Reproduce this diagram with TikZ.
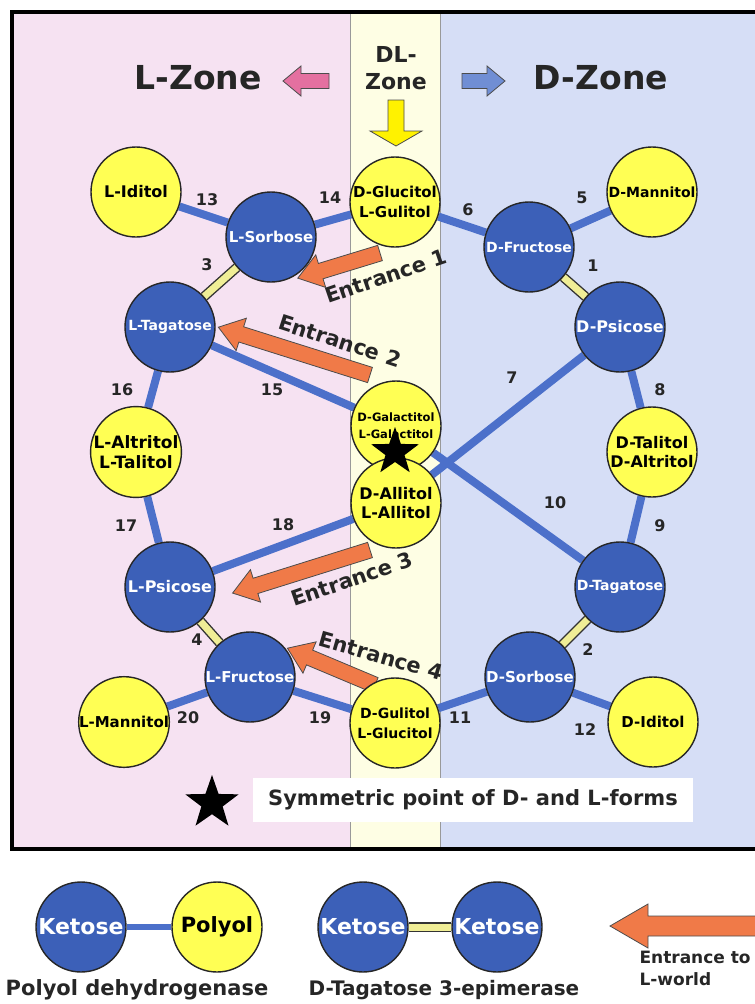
\documentclass[tikz,border=0pt]{standalone}
\usepackage{fontspec}
\setmainfont{DejaVu Sans}
\usetikzlibrary{shapes.geometric,backgrounds}

\definecolor{lzonebg}{RGB}{246,226,242}
\definecolor{dlzonebg}{RGB}{254,254,228}
\definecolor{dzonebg}{RGB}{214,222,246}
\definecolor{ketoseblue}{RGB}{60,96,184}
\definecolor{linkblue}{RGB}{76,112,202}
\definecolor{polyolyellow}{RGB}{255,255,84}
\definecolor{epiyellow}{RGB}{240,238,150}
\definecolor{entrorange}{RGB}{240,122,72}
\definecolor{lpink}{RGB}{228,112,160}
\definecolor{dblue}{RGB}{112,142,212}

\newcommand\fsz[2]{\fontsize{#1}{#2}\selectfont}
% style, tail, angle, length, shaft half width, head half width, head length
\newcommand\blockarrow[7]{%
  \draw[#1, shift={(#2)}, rotate=#3] (0,-#5) -- (#4-#7,-#5) -- (#4-#7,-#6) -- (#4,0)
    -- (#4-#7,#6) -- (#4-#7,#5) -- (0,#5) -- cycle;}

\tikzstyle{ketose}=[circle, draw=black!85, line width=1.4pt, fill=ketoseblue, text=white, minimum size=90pt, inner sep=0pt, font=\bfseries\fsz{15}{18}]
\tikzstyle{polyol}=[circle, draw=black!85, line width=1.4pt, fill=polyolyellow, minimum size=90pt, inner sep=0pt, align=center, font=\bfseries\fsz{15}{20}]
\tikzstyle{dh}=[linkblue, line width=8pt]
\tikzstyle{epi}=[draw=black!80, line width=1.4pt, double=epiyellow, double distance=7pt]
\tikzstyle{num}=[font=\bfseries\fsz{16}{16}, text=black!85]
\tikzstyle{entrance}=[draw=black!70, line width=0.8pt, fill=entrorange]
\tikzstyle{enttext}=[font=\bfseries\fsz{21}{21}, text=black!85]
\tikzstyle{symstar}=[star, star points=5, star point ratio=2.5, fill=black, inner sep=0pt]

\begin{document}
\begin{tikzpicture}[x=1pt, y=-1pt]
  \useasboundingbox (0,0) rectangle (755,1004);

  % headings
  \node[font=\bfseries\fsz{33}{33}, text=black!85] (lzone) at (198,78) {L-Zone};
  \node[font=\bfseries\fsz{33}{33}, text=black!85] (dzone) at (601,78) {D-Zone};
  \node[align=center, font=\bfseries\fsz{22}{27}, text=black!85] (dlzone) at (396,68) {DL-\\Zone};
  \blockarrow{draw=black!70, line width=0.8pt, fill=lpink}{329,81}{180}{46}{7.5}{15}{18}
  \blockarrow{draw=black!70, line width=0.8pt, fill=dblue}{462,81}{0}{43}{7.5}{15}{18}
  \blockarrow{draw=black!70, line width=0.8pt, fill=yellow}{396,100}{-90}{46}{8}{26}{15}

  % ketoses
  \node[ketose] (lsorbose) at (271,237) {L-Sorbose};
  \node[ketose, font=\bfseries\fsz{14}{17}] (ltagatose) at (170,327) {L-Tagatose};
  \node[ketose, font=\bfseries\fsz{16}{18}] (lpsicose) at (170,587) {L-Psicose};
  \node[ketose] (lfructose) at (250,677) {L-Fructose};
  \node[ketose, font=\bfseries\fsz{14}{17}] (dfructose) at (529,247) {D-Fructose};
  \node[ketose, font=\bfseries\fsz{16}{18}] (dpsicose) at (620,327) {D-Psicose};
  \node[ketose, font=\bfseries\fsz{14}{17}] (dtagatose) at (620,587) {D-Tagatose};
  \node[ketose] (dsorbose) at (530,677) {D-Sorbose};

  % polyols
  \node[polyol, font=\bfseries\fsz{16}{20}] (liditol) at (136,192) {L-Iditol};
  \node[polyol] (dglucitol) at (395,202) {D-Glucitol\\L-Gulitol};
  \node[polyol, font=\bfseries\fsz{14}{20}] (dmannitol) at (652,192) {D-Mannitol};
  \node[polyol, font=\bfseries\fsz{17}{20}] (laltritol) at (136,452) {L-Altritol\\L-Talitol};
  \node[polyol, font=\bfseries\fsz{11.5}{17}] (dgalactitol) at (396,426) {D-Galactitol\\L-Galactitol};
  \node[polyol, font=\bfseries\fsz{16}{19}] (dallitol) at (396,503) {D-Allitol\\L-Allitol};
  \node[polyol, font=\bfseries\fsz{16}{19}] (dtalitol) at (652,452) {D-Talitol\\D-Altritol};
  \node[polyol] (lmannitol) at (124,722) {L-Mannitol};
  \node[polyol, font=\bfseries\fsz{14}{20}] (dgulitol) at (395,723) {D-Gulitol\\L-Glucitol};
  \node[polyol] (diditol) at (653,722) {D-Iditol};
  \node[symstar, minimum size=50pt] (sympoint) at (395,452) {};

  % enzyme numbers
  \foreach \n/\x/\y in {13/207/200, 14/330/198, 3/207/265, 16/122/390, 15/272/390,
      17/126/526, 18/283/525, 4/197/640, 20/188/718, 19/320/718, 6/468/210, 5/582/198,
      1/593/266, 7/512/378, 8/660/390, 10/555/503, 9/660/526, 2/588/650, 11/460/718, 12/585/730}
    \node[num] (n\n) at (\x,\y) {\n};

  \node[enttext, rotate=19] (ent1) at (386,276) {Entrance 1};
  \node[enttext, rotate=-18] (ent2) at (340,341) {Entrance 2};
  \node[enttext, rotate=19] (ent3) at (352,579) {Entrance 3};
  \node[enttext, rotate=-16] (ent4) at (381,656) {Entrance 4};

  \node[fill=white, minimum width=440pt, minimum height=44pt, font=\bfseries\fsz{21}{21}, text=black!85] (symbox) at (473,800) {Symmetric point of D- and L-forms};
  \node[symstar, minimum size=56pt] (symkey) at (212,803) {};

  % key
  \node[ketose, font=\bfseries\fsz{22}{22}] (keto1) at (81,927) {Ketose};
  \node[polyol, font=\bfseries\fsz{21}{21}] (poly1) at (217,927) {Polyol};
  \node[ketose, font=\bfseries\fsz{22}{22}] (keto2) at (363,927) {Ketose};
  \node[ketose, font=\bfseries\fsz{22}{22}] (keto3) at (497,927) {Ketose};
  \node[font=\bfseries\fsz{21}{21}, text=black!85] (dhname) at (137,990) {Polyol dehydrogenase};
  \node[font=\bfseries\fsz{20}{20}, text=black!85] (epiname) at (444,990) {D-Tagatose 3-epimerase};
  \node[align=left, anchor=west, font=\bfseries\fsz{17}{22}, text=black!85] (entrname) at (636,968) {Entrance to\\L-world};

  \begin{scope}[on background layer]
    \fill[lzonebg] (12,12) rectangle (350,849);
    \fill[dlzonebg] (350,12) rectangle (440,849);
    \fill[dzonebg] (440,12) rectangle (770,849);
    \draw[black!40, line width=0.8pt] (350,12) -- (350,849) (440,12) -- (440,849);
    \draw[line width=3.5pt] (12,12) rectangle (770,849);

    \draw[dh] (liditol) -- (lsorbose);
    \draw[dh] (lsorbose) -- (dglucitol);
    \draw[dh] (ltagatose) -- (dgalactitol);
    \draw[dh] (ltagatose) -- (laltritol);
    \draw[dh] (laltritol) -- (lpsicose);
    \draw[dh] (lpsicose) -- (dallitol);
    \draw[dh] (lfructose) -- (lmannitol);
    \draw[dh] (lfructose) -- (dgulitol);
    \draw[dh] (dglucitol) -- (dfructose);
    \draw[dh] (dfructose) -- (dmannitol);
    \draw[dh] (dpsicose) -- (dallitol);
    \draw[dh] (dpsicose) -- (dtalitol);
    \draw[dh] (dtalitol) -- (dtagatose);
    \draw[dh] (dtagatose) -- (dgalactitol);
    \draw[dh] (dsorbose) -- (dgulitol);
    \draw[dh] (dsorbose) -- (diditol);
    \draw[epi] (lsorbose) -- (ltagatose);
    \draw[epi] (lpsicose) -- (lfructose);
    \draw[epi] (dfructose) -- (dpsicose);
    \draw[epi] (dtagatose) -- (dsorbose);
    \draw[dh, line width=6pt] (keto1) -- (poly1);
    \draw[epi] (keto2) -- (keto3);

    \blockarrow{entrance}{380,253}{197}{86}{8}{17}{24}
    \blockarrow{entrance}{370,375}{162.5}{159}{8}{17}{24}
    \blockarrow{entrance}{370,550}{197.4}{144}{8}{17}{24}
    \blockarrow{entrance}{375,685}{157.2}{95}{8}{17}{24}
    \blockarrow{entrance}{765,926}{180}{155}{10}{22}{38}
  \end{scope}
\end{tikzpicture}
\end{document}
